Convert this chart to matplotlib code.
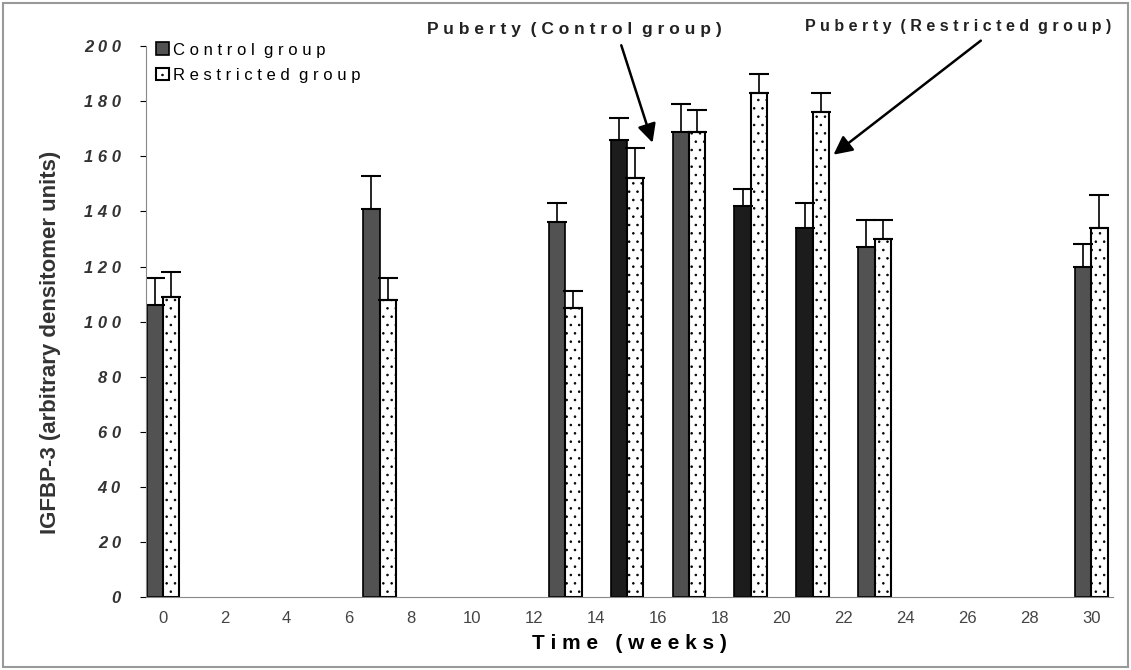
import numpy as np
import matplotlib
matplotlib.use('Agg')
from matplotlib import pyplot as plt

# weeks and values
weeks = [0, 7, 13, 15, 17, 19, 21, 23, 30]
control = [106, 141, 136, 166, 169, 142, 134, 127, 120]
control_top = [116, 153, 143, 174, 179, 148, 143, 137, 128]
restricted = [109, 108, 105, 152, 169, 183, 176, 130, 134]
restricted_top = [118, 116, 111, 163, 177, 190, 183, 137, 146]
control_colors = ['#525252', '#525252', '#525252', '#1c1c1c', '#505050',
                  '#1c1c1c', '#1c1c1c', '#525252', '#525252']

plt.rcParams['font.family'] = ['Liberation Sans', 'DejaVu Sans']
plt.rcParams['hatch.linewidth'] = 0.6

fig = plt.figure(figsize=(11.31, 6.7), dpi=100)
ax = fig.add_axes([0.129, 0.109, 0.855, 0.822])

x = np.array(weeks, dtype=float)
w = 0.53
c_err = np.array(control_top) - np.array(control)
r_err = np.array(restricted_top) - np.array(restricted)

ax.bar(x - w / 2, control, w, color=control_colors, edgecolor='black',
       linewidth=1.2, label='C o n t r o l  g r o u p')
ax.bar(x + w / 2, restricted, w, color='white', edgecolor='black',
       hatch='..', linewidth=1.5, label='R e s t r i c t e d  g r o u p')
ax.errorbar(x - w / 2, control, yerr=[np.zeros(len(x)), c_err], fmt='none',
            ecolor='black', elinewidth=1.2, capsize=7, capthick=1.5)
ax.errorbar(x + w / 2, restricted, yerr=[np.zeros(len(x)), r_err], fmt='none',
            ecolor='black', elinewidth=1.2, capsize=7, capthick=1.5)

ax.set_xlim(-0.55, 30.7)
ax.set_ylim(0, 200)
ax.set_xticks(range(0, 31, 2))
ax.set_xticklabels([str(t) for t in range(0, 31, 2)], fontsize=12, color='#444')
ax.set_yticks(range(0, 201, 20))
ax.set_yticklabels([' '.join(str(t)) for t in range(0, 201, 20)],
                   fontsize=12, fontstyle='italic', fontweight='bold', color='#333')
ax.tick_params(axis='y', length=4, pad=14)
ax.tick_params(axis='x', length=0, pad=10)
for s in ['top', 'right']:
    ax.spines[s].set_visible(False)
ax.spines['left'].set_color('#888')
ax.spines['bottom'].set_color('#888')

ax.set_xlabel('T i m e   ( w e e k s )', fontsize=15, fontweight='bold', labelpad=6)
ax.set_ylabel('IGFBP-3 (arbitrary densitomer units)', fontsize=16, fontweight='bold',
              color='#333')
ax.yaxis.set_label_coords(-0.088, 0.463)

ax.legend(loc='upper left', bbox_to_anchor=(0.0, 1.025), frameon=False,
          fontsize=12, handlelength=0.8, handleheight=0.8, handletextpad=0.2,
          labelspacing=0.6, borderaxespad=0.2)

ax.annotate('P u b e r t y  ( C o n t r o l  g r o u p )', xy=(15.85, 164),
            xytext=(13.3, 206), ha='center', va='center', fontsize=12.5,
            fontweight='bold', color='#222', annotation_clip=False,
            arrowprops=dict(arrowstyle='-|>', color='black', lw=1.8,
                            mutation_scale=28, shrinkA=4, relpos=(0.65, 0)))
ax.annotate('P u b e r t y  ( R e s t r i c t e d  g r o u p )', xy=(21.6, 160),
            xytext=(25.7, 207), ha='center', va='center', fontsize=11.5,
            fontweight='bold', color='#222', annotation_clip=False,
            arrowprops=dict(arrowstyle='-|>', color='black', lw=1.8,
                            mutation_scale=28, shrinkA=4, relpos=(0.6, 0)))

fig.patches.append(plt.Rectangle((0.003, 0.005), 0.994, 0.99, transform=fig.transFigure,
                                 fill=False, edgecolor='#999', linewidth=1.5))

plt.savefig('out.png', dpi=100)
